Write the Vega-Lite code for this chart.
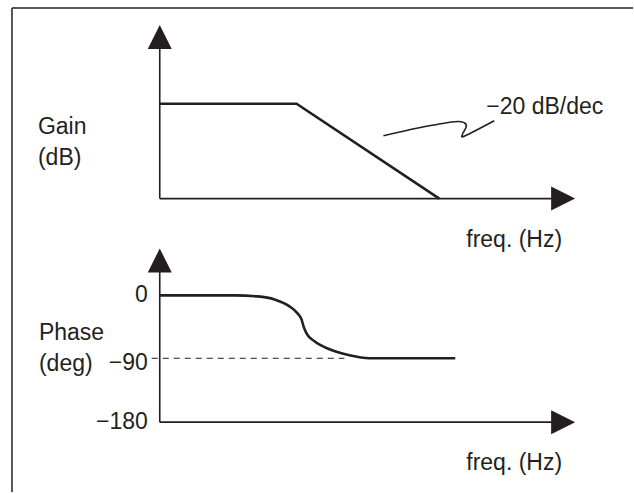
{
  "$schema": "https://vega.github.io/schema/vega-lite/v6.json",
  "width": 634,
  "height": 493,
  "autosize": {"type": "fit", "contains": "padding"},
  "padding": 0,
  "background": "white",
  "config": {"view": {"stroke": null}},
  "datasets": {
    "frame": [
      {"x": 12, "y": 8, "x2": 634, "y2": 8},
      {"x": 12, "y": 8, "x2": 12, "y2": 493}
    ],
    "axes": [
      {"x": 160, "y": 45, "x2": 160, "y2": 199},
      {"x": 160, "y": 199, "x2": 556, "y2": 199},
      {"x": 160, "y": 268, "x2": 160, "y2": 423},
      {"x": 160, "y": 423, "x2": 556, "y2": 423}
    ],
    "arrowsUp": [{"x": 160, "y": 37}, {"x": 160, "y": 261}],
    "arrowsRight": [{"x": 564, "y": 199}, {"x": 564, "y": 423}],
    "gain": [
      {"i": 0, "x": 160, "y": 104},
      {"i": 1, "x": 297, "y": 104},
      {"i": 2, "x": 440, "y": 199}
    ],
    "phase": [
      {"i": 0, "x": 160, "y": 296},
      {"i": 1, "x": 235, "y": 296},
      {"i": 2, "x": 258, "y": 297},
      {"i": 3, "x": 275, "y": 300},
      {"i": 4, "x": 290, "y": 307},
      {"i": 5, "x": 298, "y": 314},
      {"i": 6, "x": 302, "y": 320},
      {"i": 7, "x": 304, "y": 327},
      {"i": 8, "x": 307, "y": 334},
      {"i": 9, "x": 315, "y": 342},
      {"i": 10, "x": 330, "y": 350},
      {"i": 11, "x": 350, "y": 356},
      {"i": 12, "x": 370, "y": 359},
      {"i": 13, "x": 456, "y": 359}
    ],
    "dash": [{"x": 152, "y": 359, "x2": 345, "y2": 359}],
    "squiggle": [
      {"i": 0, "x": 384, "y": 136},
      {"i": 1, "x": 420, "y": 128},
      {"i": 2, "x": 455, "y": 122},
      {"i": 3, "x": 465, "y": 123},
      {"i": 4, "x": 467, "y": 127},
      {"i": 5, "x": 463, "y": 135},
      {"i": 6, "x": 466, "y": 136},
      {"i": 7, "x": 495, "y": 121}
    ],
    "labelsLeft": [
      {"x": 38, "y": 127, "t": "Gain"},
      {"x": 38, "y": 158, "t": "(dB)"},
      {"x": 39, "y": 334, "t": "Phase"},
      {"x": 39, "y": 365, "t": "(deg)"},
      {"x": 487, "y": 107, "t": "−20 dB/dec"},
      {"x": 467, "y": 240, "t": "freq. (Hz)"},
      {"x": 467, "y": 464, "t": "freq. (Hz)"}
    ],
    "labelsRight": [
      {"x": 148, "y": 296, "t": "0"},
      {"x": 148, "y": 364, "t": "−90"},
      {"x": 148, "y": 423, "t": "−180"}
    ]
  },
  "encoding": {
    "x": {"field": "x", "type": "quantitative", "scale": {"domain": [0, 634], "nice": false, "zero": false}, "axis": null},
    "y": {"field": "y", "type": "quantitative", "scale": {"domain": [0, 493], "nice": false, "zero": false, "reverse": true}, "axis": null}
  },
  "layer": [
    {
      "data": {"name": "frame"},
      "mark": {"type": "rule", "stroke": "#231f20", "strokeWidth": 1.5},
      "encoding": {"x2": {"field": "x2"}, "y2": {"field": "y2"}}
    },
    {
      "data": {"name": "axes"},
      "mark": {"type": "rule", "stroke": "#231f20", "strokeWidth": 1.6},
      "encoding": {"x2": {"field": "x2"}, "y2": {"field": "y2"}}
    },
    {
      "data": {"name": "dash"},
      "mark": {"type": "rule", "stroke": "#231f20", "strokeWidth": 1, "strokeDash": [6, 5]},
      "encoding": {"x2": {"field": "x2"}, "y2": {"field": "y2"}}
    },
    {
      "data": {"name": "arrowsUp"},
      "mark": {"type": "point", "shape": "M0,-1L1,1L-1,1Z", "size": 576, "filled": true, "fill": "#231f20", "stroke": null, "opacity": 1}
    },
    {
      "data": {"name": "arrowsRight"},
      "mark": {"type": "point", "shape": "M1,0L-1,-1L-1,1Z", "size": 576, "filled": true, "fill": "#231f20", "stroke": null, "opacity": 1}
    },
    {
      "data": {"name": "gain"},
      "mark": {"type": "line", "stroke": "#231f20", "strokeWidth": 2.6, "strokeJoin": "miter"},
      "encoding": {"order": {"field": "i"}}
    },
    {
      "data": {"name": "phase"},
      "mark": {"type": "line", "stroke": "#231f20", "strokeWidth": 2.6, "interpolate": "monotone"},
      "encoding": {"order": {"field": "i"}}
    },
    {
      "data": {"name": "squiggle"},
      "mark": {"type": "line", "stroke": "#231f20", "strokeWidth": 1.6, "interpolate": "cardinal"},
      "encoding": {"order": {"field": "i"}}
    },
    {
      "data": {"name": "labelsLeft"},
      "mark": {"type": "text", "align": "left", "baseline": "middle", "font": "Liberation Sans", "fontSize": 23, "fill": "#231f20"},
      "encoding": {"text": {"field": "t"}}
    },
    {
      "data": {"name": "labelsRight"},
      "mark": {"type": "text", "align": "right", "baseline": "middle", "font": "Liberation Sans", "fontSize": 23, "fill": "#231f20"},
      "encoding": {"text": {"field": "t"}}
    }
  ]
}
